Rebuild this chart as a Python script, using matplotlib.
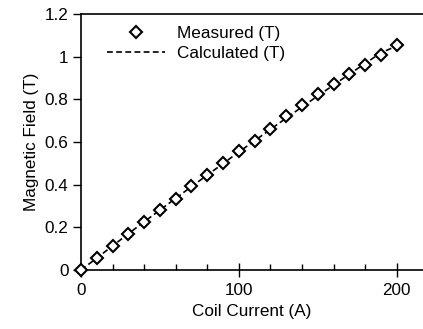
import matplotlib
matplotlib.use("Agg")
import matplotlib.pyplot as plt
from matplotlib.ticker import MultipleLocator, FuncFormatter

plt.rcParams['font.family'] = ['Liberation Sans', 'DejaVu Sans']
plt.rcParams['font.size'] = 12.3

# coil current (A) and magnetic field (T)
current = [0, 10, 20, 30, 40, 50, 60, 70, 80, 90, 100,
           110, 120, 130, 140, 150, 160, 170, 180, 190, 200]
measured = [0.0, 0.055, 0.112, 0.170, 0.225, 0.280, 0.333, 0.392, 0.447, 0.500, 0.558,
            0.607, 0.662, 0.722, 0.775, 0.823, 0.870, 0.917, 0.961, 1.008, 1.053]
calculated = [0.0, 0.056, 0.113, 0.170, 0.226, 0.281, 0.336, 0.391, 0.445, 0.499, 0.553,
              0.606, 0.659, 0.712, 0.764, 0.816, 0.867, 0.918, 0.968, 1.018, 1.050]

fig = plt.figure(figsize=(4.23, 3.29), dpi=100)
ax = fig.add_axes([0.1915, 0.1793, 0.8085, 0.7781])

ax.plot(current, measured, linestyle='none', marker='D', markersize=5.8,
        markerfacecolor='white', markeredgecolor='black', markeredgewidth=1.5,
        label='Measured (T)', zorder=3, clip_on=False)
ax.plot(current, calculated, color='black', linestyle=(0, (3.5, 2)), linewidth=1.2,
        label='Calculated (T)', zorder=2)

ax.set_xlim(0, 216.7)
ax.set_ylim(0, 1.2)
ax.xaxis.set_major_locator(MultipleLocator(100))
ax.xaxis.set_minor_locator(MultipleLocator(20))
ax.yaxis.set_major_locator(MultipleLocator(0.2))
ax.yaxis.set_major_formatter(FuncFormatter(lambda v, p: '%g' % round(v, 2)))

ax.tick_params(axis='x', which='major', direction='inout', length=10, width=1, pad=4)
ax.tick_params(axis='x', which='minor', direction='in', length=4, width=1)
ax.tick_params(axis='y', which='major', direction='out', length=6, width=1, pad=3)

for s in ['left', 'bottom', 'top']:
    ax.spines[s].set_linewidth(1.2)
ax.spines['right'].set_visible(False)

ax.set_xlabel('Coil Current (A)', labelpad=5)
ax.set_ylabel('Magnetic Field (T)', labelpad=4)

ax.legend(loc='upper left', bbox_to_anchor=(0.042, 1.0), frameon=False,
          handlelength=3.4, handletextpad=0.7, labelspacing=0.3, borderaxespad=0.3)

fig.savefig('out.png', dpi=100)
